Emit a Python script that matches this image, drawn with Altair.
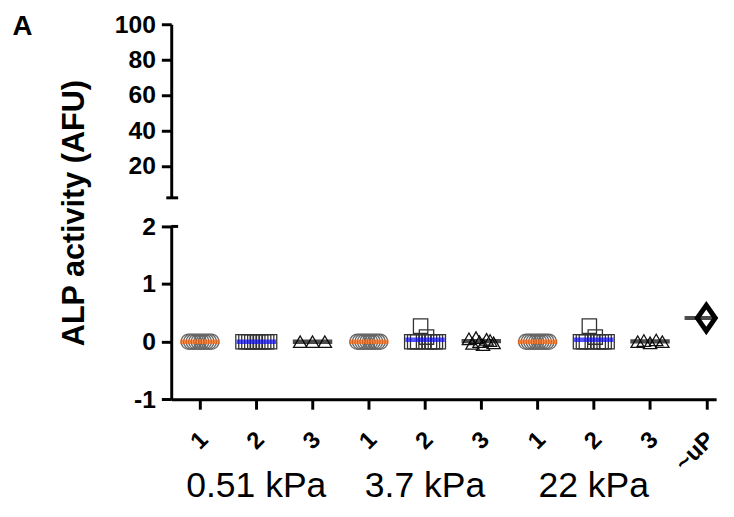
import json
import altair as alt
import pandas as pd

# ---------------- data ----------------
tick_labels = ["1", "2", "3", "1", "2", "3", "1", "2", "3", "~uP"]
group_names = ["0.51 kPa", "3.7 kPa", "22 kPa"]
group_centers = [2, 5, 8]
kinds = ["circle", "square", "triangle", "circle", "square", "triangle",
         "circle", "square", "triangle", "diamond"]

v_051_1 = [0.0, 0.0, 0.0, 0.0, 0.0, 0.0, 0.0, 0.0, 0.0, 0.0]
v_051_2 = [0.0, 0.0, 0.0, 0.0, 0.0, 0.0, 0.0, 0.0, 0.0, 0.0]
v_051_3 = [0.0, 0.0, 0.0]
v_37_1 = [0.0, 0.0, 0.0, 0.0, 0.0, 0.0, 0.0, 0.0, 0.0, 0.0]
v_37_2 = [0.0, 0.0, 0.0, 0.27, 0.0, 0.08, 0.0, 0.0, 0.0, 0.0]
v_37_3 = [0.05, -0.03, 0.07, 0.0, -0.05, 0.04, 0.02, -0.02]
v_22_1 = [0.0, 0.0, 0.0, 0.0, 0.0, 0.0, 0.0, 0.0, 0.0, 0.0]
v_22_2 = [0.0, 0.0, 0.0, 0.27, 0.0, 0.08, 0.0, 0.0, 0.0, 0.0]
v_22_3 = [0.0, 0.02, -0.02, 0.03, 0.0]
v_up = [0.41]

series = [v_051_1, v_051_2, v_051_3, v_37_1, v_37_2, v_37_3,
          v_22_1, v_22_2, v_22_3, v_up]

# ---------------- layout / style ----------------
W = 552.5
H_TOP = 176
H_BOT = 175.3
X_DOMAIN = [0.488, 10.175]
PX_PER_UNIT = W / (X_DOMAIN[1] - X_DOMAIN[0])
SPREAD = {"circle": 23, "square": 27, "triangle": 25, "diamond": 0}
FONT = "Liberation Sans"

rows = []
for pos, (vals, kind) in enumerate(zip(series, kinds), start=1):
    n = len(vals)
    for i, v in enumerate(vals):
        off = 0 if n == 1 else (i - (n - 1) / 2) * SPREAD[kind] / (n - 1)
        rows.append(dict(pos=pos, x=pos + off / PX_PER_UNIT, value=v, kind=kind))
df = pd.DataFrame(rows)
df_main = df[df.kind != "diamond"]
df_up = df[df.kind == "diamond"]

label_js = json.dumps(tick_labels)

xscale = alt.Scale(domain=X_DOMAIN, nice=False, zero=False)
yscale_bot = alt.Scale(domain=[-1, 2], nice=False, zero=False)
yscale_top = alt.Scale(domain=[2, 100], nice=False, zero=False)

kind_dom = ["circle", "square", "triangle"]

# ---------------- top panel ----------------
cap_df = pd.DataFrame({"y": [2]})
top_rule = alt.Chart(cap_df).mark_rule(strokeWidth=3, color="black").encode(
    y=alt.Y("y:Q", scale=yscale_top,
            axis=alt.Axis(values=[20, 40, 60, 80, 100], title=None)),
    x=alt.value(-5), x2=alt.value(7),
)
panel_label = alt.Chart(cap_df).mark_text(
    font=FONT, fontSize=28, fontWeight="bold", align="left",
    baseline="top", color="black"
).encode(x=alt.value(-161), y=alt.value(-11), text=alt.value("A"))

top = alt.layer(top_rule, panel_label).properties(width=W, height=H_TOP)

# ---------------- bottom panel ----------------
xenc = alt.X("x:Q", scale=xscale,
             axis=alt.Axis(values=list(range(1, 11)), title=None,
                           labelExpr=f"{label_js}[datum.value - 1]",
                           labelAngle=-45, labelFontSize=24,
                           labelAlign="right", labelBaseline="middle",
                           labelPadding=27, labelOffset=4))
yenc = alt.Y("value:Q", scale=yscale_bot,
             axis=alt.Axis(values=[-1, 0, 1, 2],
                           labelExpr="datum.value < 0 ? '-' + abs(datum.value) : '' + datum.value",
                           title="ALP activity (AFU)", titleFontSize=31,
                           titleFontWeight="bold", titleFont=FONT,
                           titleAngle=270, titleX=-98, titleY=-14,
                           titleAlign="center", titleBaseline="middle"))

points = alt.Chart(df_main).mark_point(filled=False, strokeWidth=1.3, opacity=1).encode(
    x=xenc, y=yenc,
    shape=alt.Shape("kind:N", scale=alt.Scale(domain=kind_dom,
                    range=["circle", "square", "triangle-up"]), legend=None),
    size=alt.Size("kind:N", scale=alt.Scale(domain=kind_dom, range=[240, 182, 250]),
                  legend=None),
    stroke=alt.Stroke("kind:N", scale=alt.Scale(domain=kind_dom,
                      range=["#666666", "#333333", "#111111"]), legend=None),
)

means = alt.Chart(df_main).transform_aggregate(
    mean="mean(value)", groupby=["pos", "kind"]
).mark_tick(orient="horizontal", thickness=4.5, size=40).encode(
    x=alt.X("pos:Q", scale=xscale),
    y=alt.Y("mean:Q", scale=yscale_bot),
    color=alt.Color("kind:N", scale=alt.Scale(domain=kind_dom,
                    range=["#FF5F00", "#0A0AF5", "#000000"]), legend=None),
)

diamond_path = "M0,-1L0.7,0L0,1L-0.7,0Z"
up_pt = alt.Chart(df_up).mark_point(
    shape=diamond_path, size=676, filled=False, fill="white", stroke="black",
    strokeWidth=5, opacity=1
).encode(x=alt.X("x:Q", scale=xscale), y=alt.Y("value:Q", scale=yscale_bot))

up_mean = alt.Chart(df_up).transform_aggregate(
    mean="mean(value)", groupby=["pos"]
).mark_tick(orient="horizontal", thickness=4, size=44, color="black", clip=True).encode(
    x=alt.X("pos:Q", scale=xscale), y=alt.Y("mean:Q", scale=yscale_bot))

bot_cap = alt.Chart(cap_df).mark_rule(strokeWidth=3, color="black").encode(
    y=alt.Y("y:Q", scale=yscale_bot), x=alt.value(0), x2=alt.value(7))

grp_df = pd.DataFrame({"name": group_names, "pos": group_centers})
grp_text = alt.Chart(grp_df).mark_text(
    font=FONT, fontSize=36, align="center", baseline="alphabetic", color="black"
).encode(x=alt.X("pos:Q", scale=xscale), y=alt.value(274), text="name:N")

bottom = alt.layer(points, means, up_pt, up_mean, bot_cap, grp_text).properties(
    width=W, height=H_BOT)

chart = alt.vconcat(top, bottom, spacing=29, bounds="flush").properties(
    padding={"left": 4.5, "top": 1, "right": 0, "bottom": 0}
).configure_axis(
    grid=False, domainColor="black", domainWidth=3, tickColor="black",
    tickWidth=3, tickSize=10, labelFont=FONT, labelFontWeight="bold",
    labelFontSize=25, labelColor="black", labelPadding=6, titleColor="black"
).configure_view(strokeWidth=0)

chart.save("out.html", embed_options={"renderer": "svg", "actions": False})
